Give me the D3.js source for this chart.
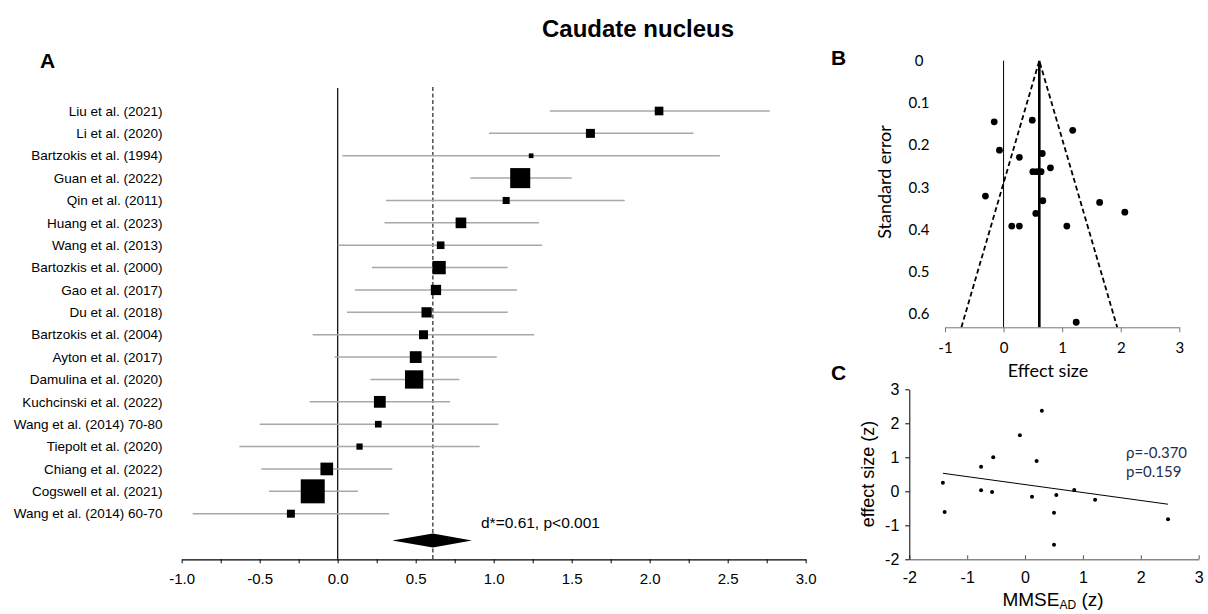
<!DOCTYPE html>
<html>
<head>
<meta charset="utf-8">
<script src="https://cdn.jsdelivr.net/npm/d3@7"></script>
<style>
	body { margin: 0; background: #fff; }
	svg { display: block; }
</style>
</head>
<body>
<div id="chart"></div>
<script>
// forest plot (A)
var studies = [
	"Liu et al. (2021)",
	"Li et al. (2020)",
	"Bartzokis et al. (1994)",
	"Guan et al. (2022)",
	"Qin et al. (2011)",
	"Huang et al. (2023)",
	"Wang et al. (2013)",
	"Bartozkis et al. (2000)",
	"Gao et al. (2017)",
	"Du et al. (2018)",
	"Bartzokis et al. (2004)",
	"Ayton et al. (2017)",
	"Damulina et al. (2020)",
	"Kuchcinski et al. (2022)",
	"Wang et al. (2014) 70-80",
	"Tiepolt et al. (2020)",
	"Chiang et al. (2022)",
	"Cogswell et al. (2021)",
	"Wang et al. (2014) 60-70"
];
var effects = [2.06, 1.62, 1.24, 1.17, 1.08, 0.79, 0.66, 0.65, 0.63, 0.57, 0.55, 0.50, 0.49, 0.27, 0.26, 0.14, -0.07, -0.16, -0.30];
var ciLow = [1.36, 0.97, 0.03, 0.85, 0.31, 0.30, 0.00, 0.22, 0.11, 0.06, -0.16, -0.02, 0.21, -0.18, -0.50, -0.63, -0.49, -0.44, -0.93];
var ciHigh = [2.77, 2.28, 2.45, 1.50, 1.84, 1.29, 1.31, 1.09, 1.15, 1.09, 1.26, 1.02, 0.78, 0.72, 1.03, 0.91, 0.35, 0.13, 0.33];
var weights = [2.7, 2.9, 0.8, 14.5, 1.8, 4.1, 2.1, 6.4, 3.8, 3.8, 2.9, 5.0, 12.1, 5.0, 1.6, 1.4, 5.8, 20.8, 2.3];
var pooled = 0.61,
	pooledLow = 0.35,
	pooledHigh = 0.86;
var forestTicks = [-1.0, -0.5, 0.0, 0.5, 1.0, 1.5, 2.0, 2.5, 3.0];

// funnel plot (B)
var funnelEffect = [-0.16, 0.49, 1.18, -0.07, 0.27, 0.66, 0.80, 0.50, 0.57, 0.64, -0.31, 0.67, 1.64, 2.07, 0.55, 0.14, 0.27, 1.08, 1.24];
var funnelSE = [0.145, 0.141, 0.165, 0.212, 0.229, 0.220, 0.254, 0.263, 0.263, 0.263, 0.321, 0.332, 0.336, 0.359, 0.362, 0.392, 0.392, 0.392, 0.620];
var funnelEdgeX = [-0.72, 0.61, 1.94];
var funnelEdgeSE = [0.632, 0, 0.632];
var funnelYTicks = [0, 0.1, 0.2, 0.3, 0.4, 0.5, 0.6];
var funnelXTicks = [-1, 0, 1, 2, 3];

// meta-regression (C)
var mmseZ = [-1.42, -1.39, -0.76, -0.76, -0.55, -0.57, -0.09, 0.12, 0.20, 0.29, 0.50, 0.50, 0.54, 0.85, 1.21, 2.47];
var effectZ = [0.25, -0.61, 0.72, 0.03, 1.00, -0.02, 1.65, -0.16, 0.89, 2.37, -0.63, -1.57, -0.11, 0.04, -0.25, -0.82];
var trendX = [-1.42, 2.47];
var trendY = [0.53, -0.38];
var regTicks = [-2, -1, 0, 1, 2, 3];
var rho = "ρ=-0.370",
	pValue = "p=0.159";

var svg;
var arial = "'Liberation Sans', Arial, sans-serif",
	calibri = "Lato, 'Open Sans', sans-serif";

// plain hyphen instead of d3's unicode minus
function plain(d) {
	return String(d);
}

function onLoad() {
	svg = d3.select("#chart")
		.append("svg")
		.attr("width", 1208)
		.attr("height", 614);

	svg.append("text")
		.attr("x", 638)
		.attr("y", 37)
		.attr("text-anchor", "middle")
		.style("font-family", arial)
		.style("font-weight", "bold")
		.style("font-size", "24px")
		.text("Caudate nucleus");

	panelLabel("A", 40, 68);
	panelLabel("B", 831, 65);
	panelLabel("C", 831, 380);

	drawForest();
	drawFunnel();
	drawRegression();
}

function panelLabel(t, x, y) {
	svg.append("text")
		.attr("x", x)
		.attr("y", y)
		.style("font-family", arial)
		.style("font-weight", "bold")
		.style("font-size", "21px")
		.text(t);
}

function drawForest() {
	var x = d3.scaleLinear().domain([-1, 3]).range([181.7, 805.7]);
	var y = d3.scaleLinear().domain([0, studies.length - 1]).range([111, 513.7]);
	var size = d3.scaleSqrt().domain([0, 20.8]).range([0, 24]);
	var axisY = 559.3;
	var g = svg.append("g");

	// reference lines
	g.append("line")
		.attr("x1", x(0)).attr("x2", x(0))
		.attr("y1", 88).attr("y2", axisY)
		.attr("stroke", "#000").attr("stroke-width", 1.2);
	g.append("line")
		.attr("x1", x(pooled)).attr("x2", x(pooled))
		.attr("y1", 87).attr("y2", axisY)
		.attr("stroke", "#333").attr("stroke-width", 1.3)
		.attr("stroke-dasharray", "4,2.5");

	studies.forEach(function(name, i) {
		g.append("line")
			.attr("x1", x(ciLow[i])).attr("x2", x(ciHigh[i]))
			.attr("y1", y(i)).attr("y2", y(i))
			.attr("stroke", "#a8a8a8").attr("stroke-width", 1.5);
		var s = size(weights[i]);
		g.append("rect")
			.attr("x", x(effects[i]) - s / 2)
			.attr("y", y(i) - s / 2)
			.attr("width", s)
			.attr("height", s)
			.style("fill", "#000");
		g.append("text")
			.attr("x", 162.5)
			.attr("y", y(i))
			.attr("dy", "0.35em")
			.attr("text-anchor", "end")
			.style("font-family", arial)
			.style("font-size", "13.5px")
			.text(name);
	});

	// summary diamond
	var dy = y(19.2);
	g.append("path")
		.attr("d", "M" + x(pooledLow) + "," + dy +
			"L" + x(pooled) + "," + (dy - 7) +
			"L" + x(pooledHigh) + "," + dy +
			"L" + x(pooled) + "," + (dy + 7) + "Z")
		.style("fill", "#000");
	g.append("text")
		.attr("x", 481)
		.attr("y", 528)
		.style("font-family", arial)
		.style("font-size", "15.5px")
		.text("d*=" + pooled.toFixed(2) + ", p<0.001");

	var axis = g.append("g").attr("transform", "translate(0," + axisY + ")")
		.call(d3.axisBottom(x)
			.tickValues(d3.range(-1, 3.01, 0.25))
			.tickSize(4)
			.tickSizeOuter(0)
			.tickFormat(function(d) { return forestTicks.indexOf(d) >= 0 ? d.toFixed(1) : ""; }));
	axis.select(".domain").attr("stroke-width", 1.3);
	axis.selectAll("text")
		.attr("dy", "1.15em")
		.style("font-family", arial)
		.style("font-size", "15px");
}

function drawFunnel() {
	var x = d3.scaleLinear().domain([-1, 3]).range([945, 1179.3]);
	var y = d3.scaleLinear().domain([0, 0.632]).range([60.7, 327.3]);
	var g = svg.append("g");

	g.append("line")
		.attr("x1", x(0)).attr("x2", x(0))
		.attr("y1", y(0)).attr("y2", y(0.632))
		.attr("stroke", "#000").attr("stroke-width", 1);
	g.append("line")
		.attr("x1", x(pooled)).attr("x2", x(pooled))
		.attr("y1", y(0)).attr("y2", y(0.632))
		.attr("stroke", "#000").attr("stroke-width", 2.6);

	var line = d3.line()
		.x(function(d, i) { return x(funnelEdgeX[i]); })
		.y(function(d, i) { return y(funnelEdgeSE[i]); });
	g.append("path")
		.attr("d", line(funnelEdgeX))
		.attr("fill", "none")
		.attr("stroke", "#000")
		.attr("stroke-width", 1.8)
		.attr("stroke-dasharray", "5,3");

	funnelEffect.forEach(function(e, i) {
		g.append("circle")
			.attr("cx", x(e))
			.attr("cy", y(funnelSE[i]))
			.attr("r", 3.4)
			.style("fill", "#000");
	});

	funnelYTicks.forEach(function(t) {
		g.append("text")
			.attr("x", 919)
			.attr("y", y(t))
			.attr("dy", "0.35em")
			.attr("text-anchor", "middle")
			.style("font-family", calibri)
			.style("font-size", "15px")
			.text(t);
	});

	var axis = g.append("g").attr("transform", "translate(0," + y(0.632) + ")")
		.call(d3.axisBottom(x).tickValues(funnelXTicks).tickSize(5).tickSizeOuter(0).tickFormat(plain));
	axis.selectAll("text")
		.attr("dy", "1.2em")
		.style("font-family", calibri)
		.style("font-size", "15px");
	axis.selectAll("line, path").attr("stroke", "#777");

	g.append("text")
		.attr("x", 1048)
		.attr("y", 377)
		.attr("text-anchor", "middle")
		.style("font-family", calibri)
		.style("font-size", "18px")
		.text("Effect size");
	g.append("text")
		.attr("transform", "translate(891,182) rotate(-90)")
		.attr("text-anchor", "middle")
		.style("font-family", calibri)
		.style("font-size", "18px")
		.text("Standard error");
}

function drawRegression() {
	var x = d3.scaleLinear().domain([-2, 3]).range([909.3, 1198.7]);
	var y = d3.scaleLinear().domain([-2, 3]).range([559.3, 389.3]);
	var g = svg.append("g");

	var xAxis = g.append("g").attr("transform", "translate(0," + y(-2) + ")")
		.call(d3.axisBottom(x).tickValues(regTicks).tickSize(0).tickSizeOuter(0).tickPadding(12).tickFormat(plain));
	xAxis.select(".domain").attr("stroke", "#888").attr("stroke-width", 1.5);
	xAxis.selectAll(".tick").append("line")
		.attr("y1", 0).attr("y2", -4)
		.attr("stroke", "#555");
	xAxis.selectAll("text")
		.style("font-family", arial)
		.style("font-size", "16px");

	var yAxis = g.append("g").attr("transform", "translate(" + x(-2) + ",0)")
		.call(d3.axisLeft(y).tickValues(regTicks).tickSize(4).tickSizeOuter(0).tickPadding(6).tickFormat(plain));
	yAxis.selectAll("text")
		.style("font-family", arial)
		.style("font-size", "16px");

	var line = d3.line()
		.x(function(d, i) { return x(trendX[i]); })
		.y(function(d, i) { return y(trendY[i]); });
	g.append("path")
		.attr("d", line(trendX))
		.attr("fill", "none")
		.attr("stroke", "#000")
		.attr("stroke-width", 1);

	mmseZ.forEach(function(m, i) {
		g.append("circle")
			.attr("cx", x(m))
			.attr("cy", y(effectZ[i]))
			.attr("r", 2)
			.style("fill", "#000");
	});

	g.append("text")
		.attr("x", 1126)
		.attr("y", 458)
		.style("font-family", calibri)
		.style("font-size", "15px")
		.style("fill", "#1f2d4e")
		.text(rho);
	g.append("text")
		.attr("x", 1126)
		.attr("y", 477)
		.style("font-family", calibri)
		.style("font-size", "15px")
		.style("fill", "#1f2d4e")
		.text(pValue);

	var xl = g.append("text")
		.attr("x", 1053)
		.attr("y", 606)
		.attr("text-anchor", "middle")
		.style("font-family", arial)
		.style("font-size", "19px");
	xl.append("tspan").text("MMSE");
	xl.append("tspan").attr("dy", 3).style("font-size", "12px").text("AD");
	xl.append("tspan").attr("dy", -3).text(" (z)");

	g.append("text")
		.attr("transform", "translate(874,474) rotate(-90)")
		.attr("text-anchor", "middle")
		.style("font-family", arial)
		.style("font-size", "18px")
		.text("effect size (z)");
}

onLoad();
</script>
</body>
</html>
